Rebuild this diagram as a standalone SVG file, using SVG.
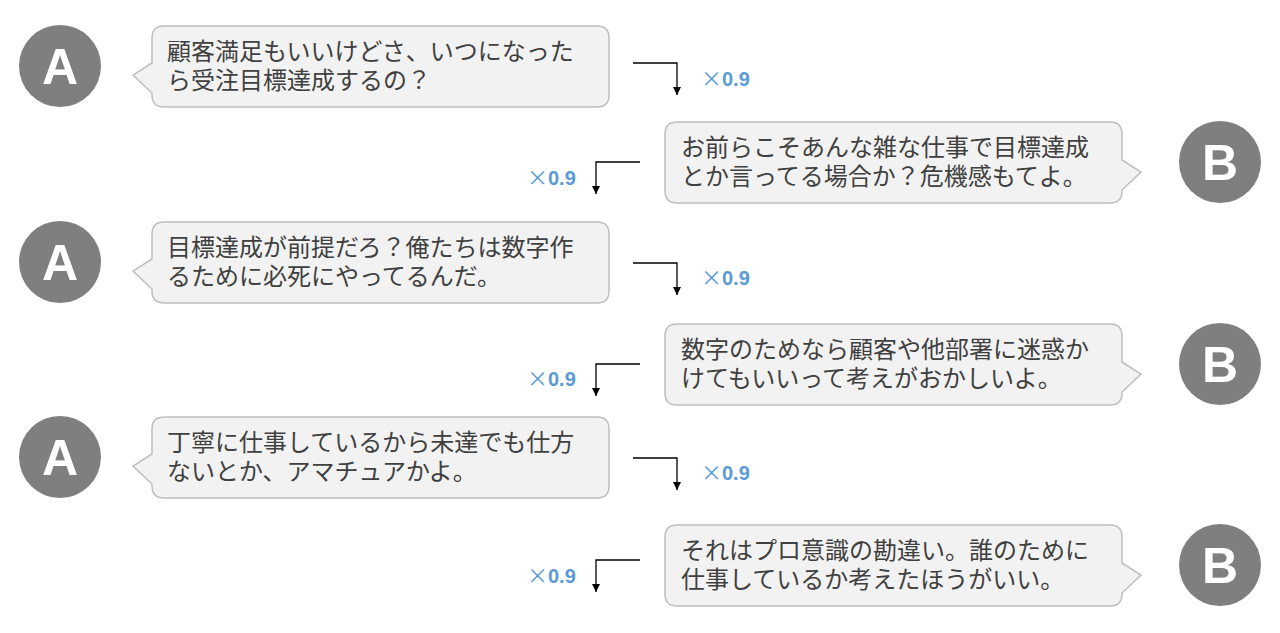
<svg xmlns="http://www.w3.org/2000/svg" width="1280" height="633" viewBox="0 0 1280 633">
<defs>
<style>
.bub{fill:#f2f2f2;stroke:#bfbfbf;stroke-width:1.5}
.av{fill:#7f7f7f}
.avt{fill:#ffffff;font-family:"Liberation Sans","Noto Sans",sans-serif;font-weight:bold;font-size:50px;text-anchor:middle}
.tx{fill:#404040;font-family:"Noto Sans CJK JP",sans-serif;font-size:24px}
.lb{fill:#5b9bd5;font-family:"Liberation Sans","Noto Sans",sans-serif;font-size:20px;font-weight:bold}
.lb .x{font-family:"Noto Sans CJK JP",sans-serif;font-weight:normal;font-size:21px}
.con{fill:none;stroke:#000;stroke-width:1.3}
</style>
<marker id="ad" markerWidth="10" markerHeight="10" refX="5" refY="9" markerUnits="userSpaceOnUse" viewBox="0 0 10 10">
<path d="M1,1 L9,1 L5,9 Z" fill="#000"/>
</marker>
</defs>

<g id="row1-A">
<circle class="av" cx="60" cy="66" r="41"/>
<text class="avt" x="60" y="84">A</text>
<path class="bub" d="M164 26 H597 Q609 26 609 38 V95 Q609 107 597 107 H164 Q152 107 152 95 V93 L133 75 L152 63 V38 Q152 26 164 26 Z"/>
<text class="tx" x="167" y="60">顧客満足もいいけどさ、いつになった</text>
<text class="tx" x="167" y="89">ら受注目標達成するの？</text>
</g>

<g id="row2-B">
<circle class="av" cx="1220" cy="162" r="41"/>
<text class="avt" x="1220" y="180">B</text>
<path class="bub" d="M677 122 H1110 Q1122 122 1122 134 V160 L1141 172 L1122 190 V191 Q1122 203 1110 203 H677 Q665 203 665 191 V134 Q665 122 677 122 Z"/>
<text class="tx" x="681" y="156">お前らこそあんな雑な仕事で目標達成</text>
<text class="tx" x="681" y="185">とか言ってる場合か？危機感もてよ。</text>
</g>

<g id="row3-A">
<circle class="av" cx="60" cy="262" r="41"/>
<text class="avt" x="60" y="280">A</text>
<path class="bub" d="M164 222 H597 Q609 222 609 234 V291 Q609 303 597 303 H164 Q152 303 152 291 V289 L133 271 L152 259 V234 Q152 222 164 222 Z"/>
<text class="tx" x="167" y="256">目標達成が前提だろ？俺たちは数字作</text>
<text class="tx" x="167" y="285">るために必死にやってるんだ。</text>
</g>

<g id="row4-B">
<circle class="av" cx="1220" cy="364" r="41"/>
<text class="avt" x="1220" y="382">B</text>
<path class="bub" d="M677 324 H1110 Q1122 324 1122 336 V362 L1141 374 L1122 392 V393 Q1122 405 1110 405 H677 Q665 405 665 393 V336 Q665 324 677 324 Z"/>
<text class="tx" x="681" y="358">数字のためなら顧客や他部署に迷惑か</text>
<text class="tx" x="681" y="387">けてもいいって考えがおかしいよ。</text>
</g>

<g id="row5-A">
<circle class="av" cx="60" cy="457" r="41"/>
<text class="avt" x="60" y="475">A</text>
<path class="bub" d="M164 417 H597 Q609 417 609 429 V486 Q609 498 597 498 H164 Q152 498 152 486 V484 L133 466 L152 454 V429 Q152 417 164 417 Z"/>
<text class="tx" x="167" y="451">丁寧に仕事しているから未達でも仕方</text>
<text class="tx" x="167" y="480">ないとか、アマチュアかよ。</text>
</g>

<g id="row6-B">
<circle class="av" cx="1220" cy="565" r="41"/>
<text class="avt" x="1220" y="583">B</text>
<path class="bub" d="M677 525 H1110 Q1122 525 1122 537 V563 L1141 575 L1122 593 V594 Q1122 606 1110 606 H677 Q665 606 665 594 V537 Q665 525 677 525 Z"/>
<text class="tx" x="681" y="559">それはプロ意識の勘違い。誰のために</text>
<text class="tx" x="681" y="588">仕事しているか考えたほうがいい。</text>
</g>

<g id="connectors">
<path class="con" d="M633 63 H677 V95" marker-end="url(#ad)"/>
<path class="con" d="M640 162 H596 V194" marker-end="url(#ad)"/>
<path class="con" d="M633 263 H677 V295" marker-end="url(#ad)"/>
<path class="con" d="M640 364 H596 V396" marker-end="url(#ad)"/>
<path class="con" d="M633 458 H677 V490" marker-end="url(#ad)"/>
<path class="con" d="M640 560 H596 V592" marker-end="url(#ad)"/>
<text class="lb" x="701" y="86"><tspan class="x">×</tspan>0.9</text>
<text class="lb" x="527" y="185"><tspan class="x">×</tspan>0.9</text>
<text class="lb" x="701" y="285"><tspan class="x">×</tspan>0.9</text>
<text class="lb" x="527" y="386"><tspan class="x">×</tspan>0.9</text>
<text class="lb" x="701" y="480"><tspan class="x">×</tspan>0.9</text>
<text class="lb" x="527" y="583"><tspan class="x">×</tspan>0.9</text>
</g>
</svg>
